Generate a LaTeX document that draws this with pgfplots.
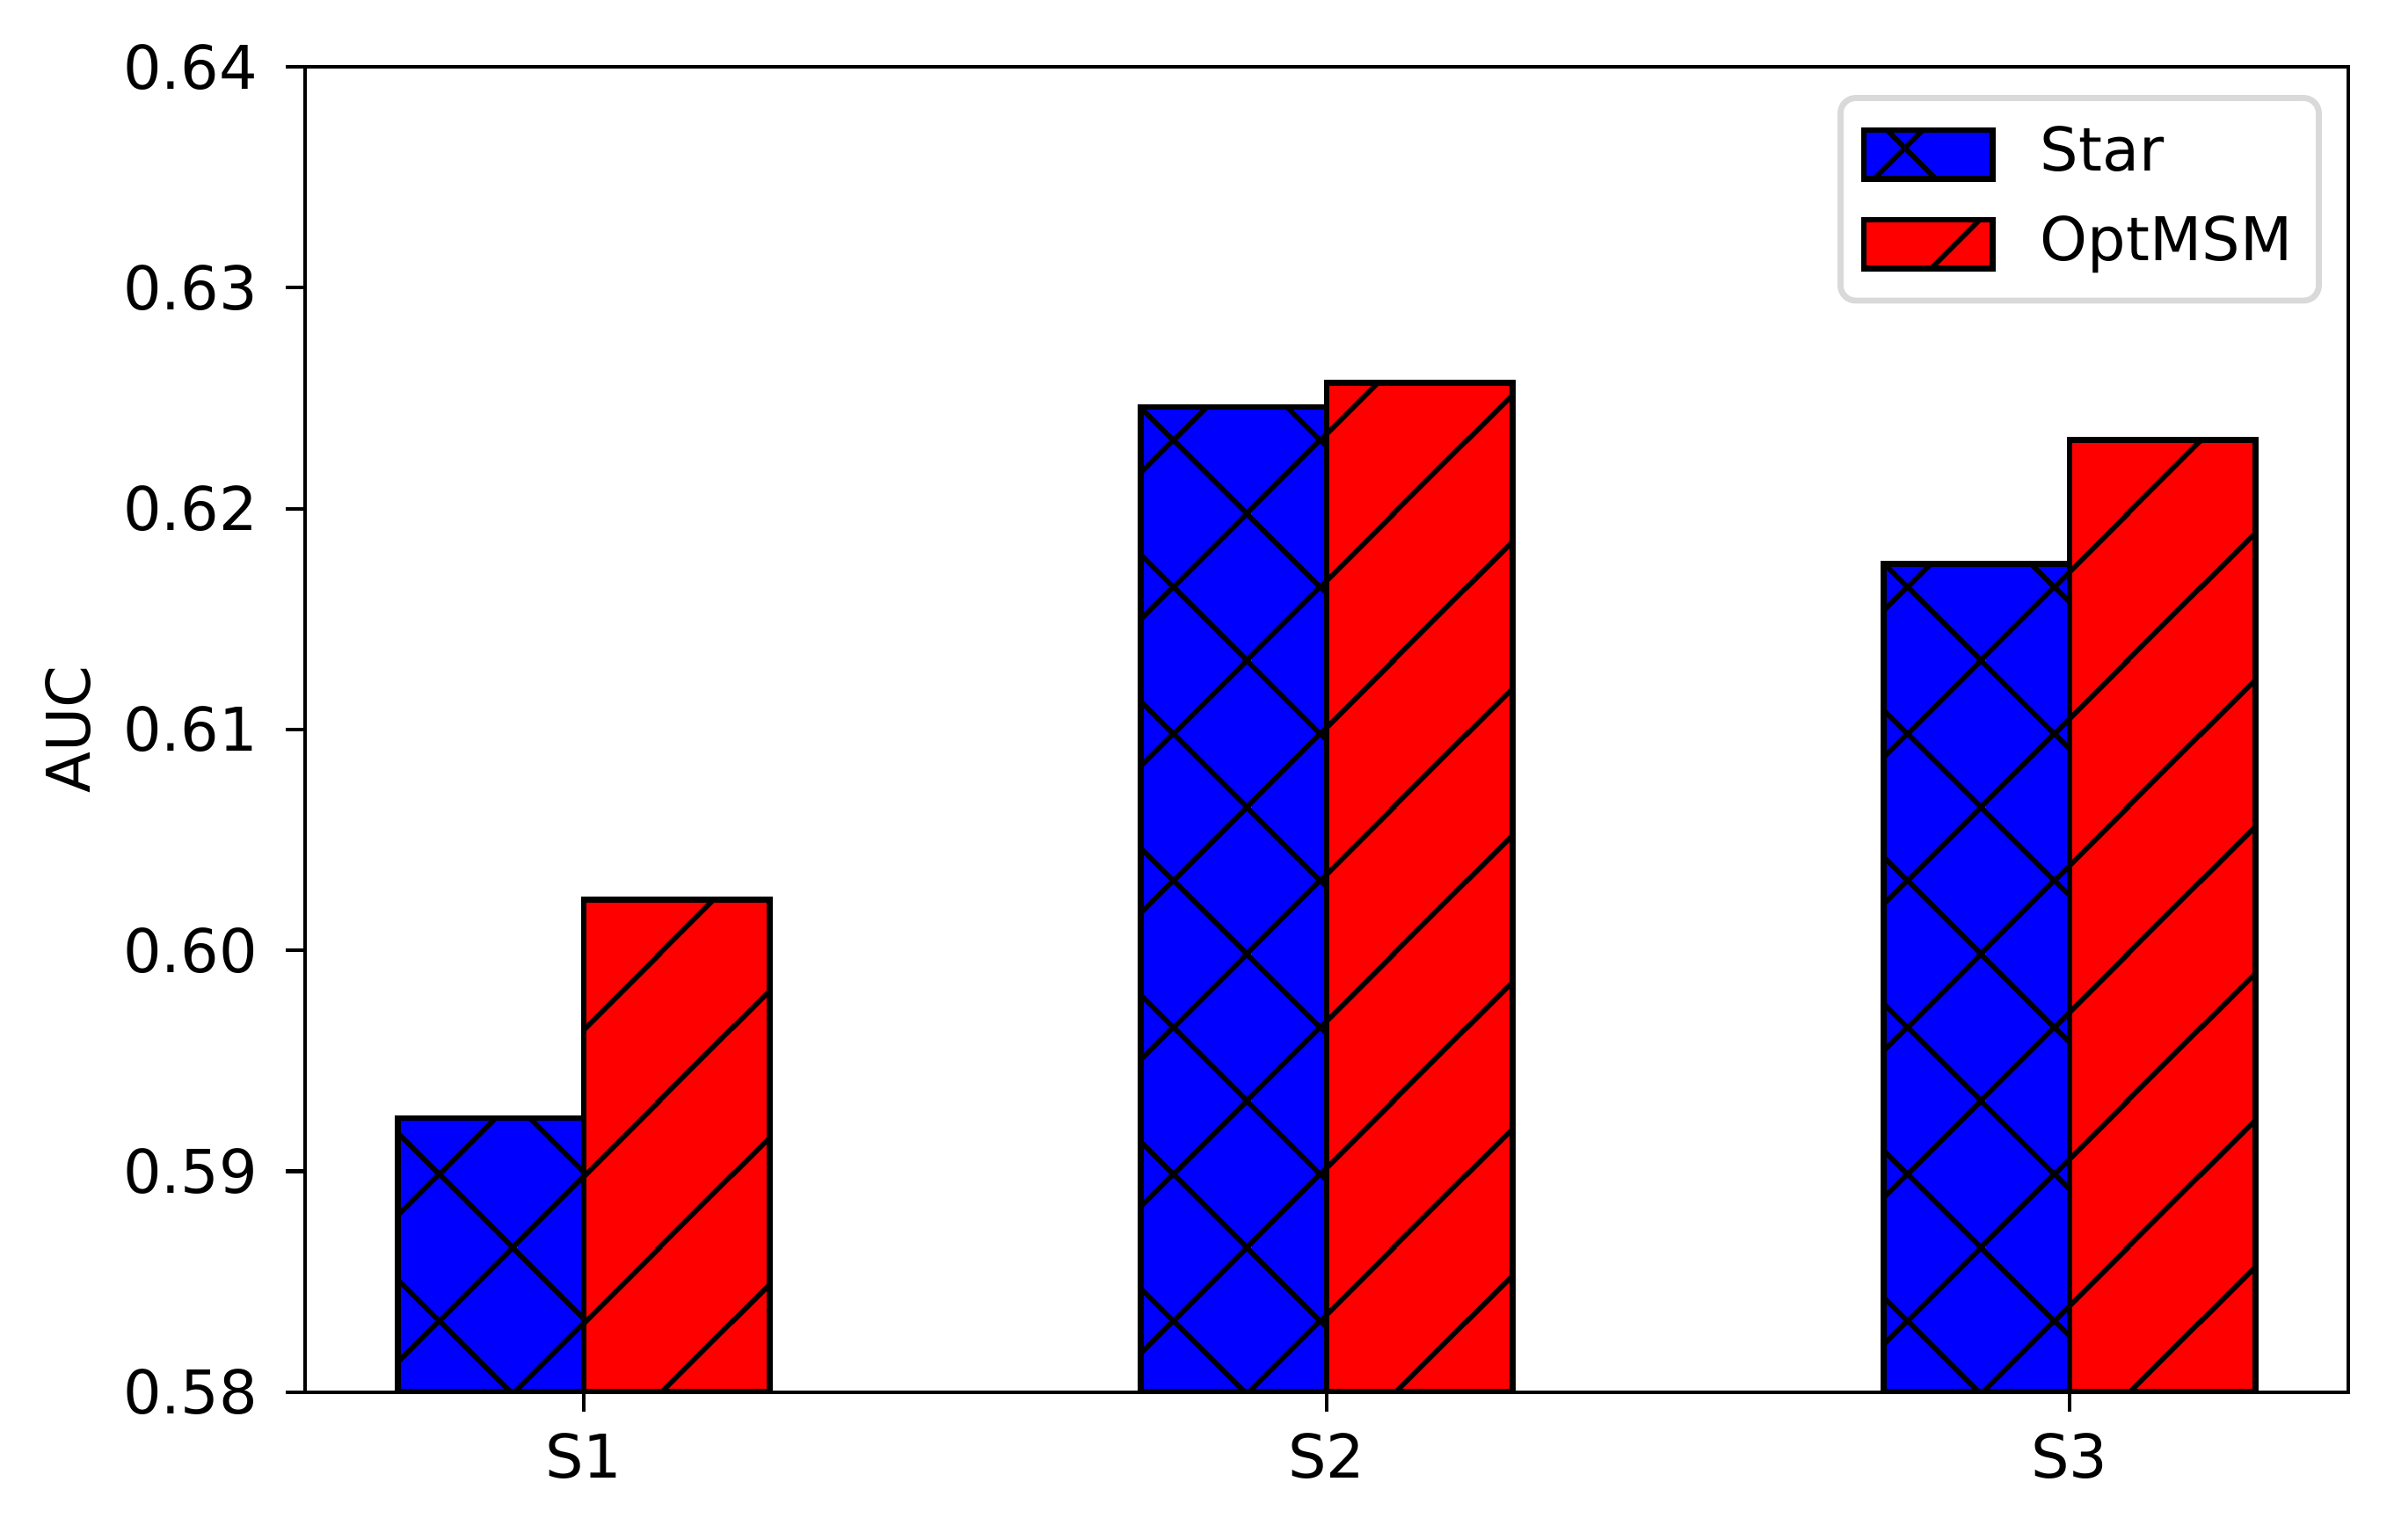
\documentclass[border=0pt]{standalone}
\usepackage{fontspec}
\setmainfont{DejaVu Sans}
\usepackage{pgfplots}
\pgfplotsset{compat=1.18}
\usetikzlibrary{patterns.meta}
\definecolor{mblue}{RGB}{0,0,255}
\definecolor{mred}{RGB}{255,0,0}
\definecolor{legframe}{RGB}{217,217,217}
% matplotlib-like hatches: '/' and 'x', period 24.3pt horizontally
\tikzdeclarepattern{
  name=mplslash,
  type=uncolored,
  bounding box={(0pt,0pt) and (24.3pt,24.3pt)},
  tile size={(24.3pt,24.3pt)},
  code={
    \draw[line width=0.83pt] (-1pt,11.15pt) -- (13.15pt,25.3pt) (11.15pt,-1pt) -- (25.3pt,13.15pt);
  }
}
\tikzdeclarepattern{
  name=mplcross,
  type=uncolored,
  bounding box={(0pt,0pt) and (24.3pt,24.3pt)},
  tile size={(24.3pt,24.3pt)},
  code={
    \draw[line width=0.83pt] (-1pt,11.15pt) -- (13.15pt,25.3pt) (11.15pt,-1pt) -- (25.3pt,13.15pt)
      (-1pt,13.15pt) -- (13.15pt,-1pt) (11.15pt,25.3pt) -- (25.3pt,11.15pt);
  }
}
\pgfplotsset{
  myleg/.style={legend image code/.code={\draw[##1,sharp corners,bar shift=0pt] (0pt,-4.05pt) rectangle (21.3pt,4.05pt);}}
}
\begin{document}
\begin{tikzpicture}
\begin{axis}[
  scale only axis, width=338.8pt, height=219.8pt,
  xmin=-0.375, xmax=2.375, ymin=0.58, ymax=0.64,
  xtick={0,1,2}, xticklabels={S1,S2,S3},
  ytick={0.58,0.59,0.60,0.61,0.62,0.63,0.64},
  /pgf/number format/assume math mode=true,
  yticklabel style={/pgf/number format/fixed, /pgf/number format/fixed zerofill, /pgf/number format/precision=2},
  tick align=outside, major tick length=3.2pt,
  xtick pos=left, ytick pos=left,
  tick style={line width=0.6pt, black},
  axis line style={line width=0.6pt},
  ticklabel style={font=\fontsize{10}{12}\selectfont},
  xticklabel style={inner sep=0pt, anchor=north, yshift=-3.4pt},
  yticklabel style={inner sep=0pt, anchor=east, xshift=-4.5pt},
  ylabel={AUC},
  every axis y label/.style={at={(axis description cs:-0.116,0.5)}, rotate=90, anchor=center, font=\fontsize{10}{12}\selectfont},
  ybar, bar width=0.25,
  legend cell align=left,
  legend style={at={(0.9871,0.9788)}, anchor=north east, draw=legframe, line width=1pt,
    rounded corners=2.5pt, fill=white, font=\fontsize{10}{12}\selectfont,
    inner xsep=3.4pt, inner ysep=3.5pt, row sep=3.2pt, column sep=6.5pt,
    nodes={inner sep=1pt, text height=7.6pt, text depth=2.1pt}},
]
\addplot[fill=mblue, draw=black, line width=0.97pt, bar shift=-0.125,
  postaction={pattern=mplcross, pattern color=black}, myleg]
  coordinates {(0,0.5924) (1,0.6246) (2,0.6175)};
\addlegendentry{Star}
\addplot[fill=mred, draw=black, line width=0.97pt, bar shift=0.125,
  postaction={pattern=mplslash, pattern color=black}, myleg]
  coordinates {(0,0.6023) (1,0.6257) (2,0.6231)};
\addlegendentry{OptMSM}
\end{axis}
\pgfresetboundingbox
\path (-50.6pt,-24.5pt) rectangle (346.4pt,230.9pt);
\end{tikzpicture}
\end{document}
